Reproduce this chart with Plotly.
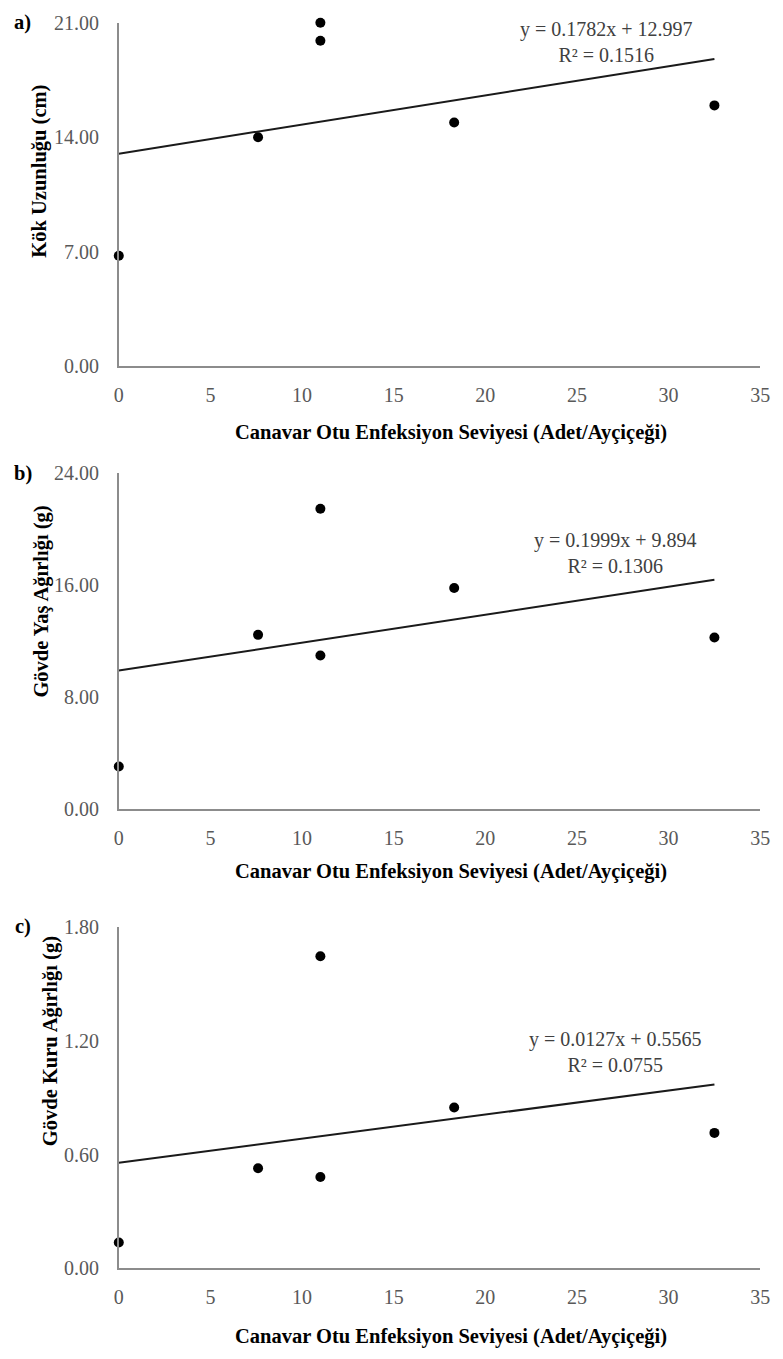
import plotly.graph_objects as go

W, H = 783, 1359

# Data
infection = [0, 7.6, 11, 11, 18.3, 32.5]
root_length = [6.75, 14.0, 21.0, 19.9, 14.9, 15.95]
fresh_weight = [3.03, 12.45, 21.47, 10.97, 15.8, 12.26]
dry_weight = [0.136, 0.528, 1.645, 0.481, 0.848, 0.714]

slopes = [0.1782, 0.1999, 0.0127]
intercepts = [12.997, 9.894, 0.5565]
r2_values = ["0.1516", "0.1306", "0.0755"]
eq_texts = ["y = 0.1782x + 12.997", "y = 0.1999x + 9.894", "y = 0.0127x + 0.5565"]

y_titles = ["Kök Uzunluğu (cm)", "Gövde Yaş Ağırlığı (g)", "Gövde Kuru Ağırlığı (g)"]
panel_labels = ["a)", "b)", "c)"]
x_title = "Canavar Otu Enfeksiyon Seviyesi (Adet/Ayçiçeği)"
x_ticks = [0, 5, 10, 15, 20, 25, 30, 35]
y_ticks = [[0, 7, 14, 21], [0, 8, 16, 24], [0, 0.6, 1.2, 1.8]]
series = [root_length, fresh_weight, dry_weight]

# Layout geometry (pixels)
x_left, x_right = 116, 770
panels_px = [(12, 361), (470, 811), (931, 1278)]
ytitle_px = [(35, 163), (37, 600), (46, 1047)]
xtitle_y = [428, 875, 1347]
eq_pos = [(26.6, 19.8), (27.1, 18.3), (27.1, 1.14)]

FONT = "Liberation Serif"
TICK_COL = "#595959"
AXIS_COL = "#8c8c8c"
FS = 20
TFS = 20.5

def px2x(p):
    return p / W

def px2y(p):
    return 1 - p / H

fig = go.Figure()
annotations = []
layout = dict(
    width=W, height=H,
    margin=dict(l=0, r=0, t=0, b=0),
    paper_bgcolor="white", plot_bgcolor="white",
    showlegend=False,
    font=dict(family=FONT, size=FS, color=TICK_COL),
)

for i in range(3):
    sfx = "" if i == 0 else str(i + 1)
    xa, ya = "x" + sfx, "y" + sfx
    top, bot = panels_px[i]
    xs = [min(infection), max(infection)]
    fig.add_trace(go.Scatter(
        x=xs, y=[slopes[i] * v + intercepts[i] for v in xs],
        mode="lines", line=dict(color="#1a1a1a", width=2),
        xaxis=xa, yaxis=ya, hoverinfo="skip"))
    fig.add_trace(go.Scatter(
        x=infection, y=series[i], mode="markers",
        marker=dict(color="black", size=10),
        cliponaxis=False, xaxis=xa, yaxis=ya))
    yt = y_ticks[i]
    layout["xaxis" + sfx] = dict(
        domain=[px2x(x_left), px2x(x_right)], anchor=ya,
        range=[0, 35], tickvals=x_ticks, ticks="", showgrid=False,
        zeroline=False, showline=True, linecolor=AXIS_COL, linewidth=1.5,
        tickfont=dict(family=FONT, size=FS, color=TICK_COL),
        ticklabelstandoff=10, fixedrange=True)
    layout["yaxis" + sfx] = dict(
        domain=[px2y(bot), px2y(top)], anchor=xa,
        range=[0, yt[-1]], tickvals=yt, tickformat=".2f", ticks="",
        showgrid=False, zeroline=False, showline=True, linecolor=AXIS_COL,
        linewidth=1.5, tickfont=dict(family=FONT, size=FS, color=TICK_COL),
        ticklabelstandoff=14, fixedrange=True)
    # equation
    ex, ey = eq_pos[i]
    annotations.append(dict(
        x=ex, y=ey, xref=xa, yref=ya, showarrow=False,
        text=eq_texts[i] + "<br>R² = " + r2_values[i],
        font=dict(family=FONT, size=FS, color="#404040"), align="center"))
    # y title
    tx, ty = ytitle_px[i]
    annotations.append(dict(
        x=px2x(tx), y=px2y(ty), xref="paper", yref="paper", showarrow=False,
        text="<b>" + y_titles[i] + "</b>", textangle=-90,
        font=dict(family=FONT, size=TFS, color="black"),
        xanchor="center", yanchor="middle"))
    # x title
    annotations.append(dict(
        x=px2x(455), y=px2y(xtitle_y[i]), xref="paper", yref="paper",
        showarrow=False, text="<b>" + x_title + "</b>",
        font=dict(family=FONT, size=TFS, color="black"),
        xanchor="center", yanchor="middle"))
    # panel label
    annotations.append(dict(
        x=px2x(18), y=px2y(top), xref="paper", yref="paper", showarrow=False,
        text="<b>" + panel_labels[i] + "</b>",
        font=dict(family=FONT, size=TFS, color="black"),
        xanchor="center", yanchor="middle"))

layout["annotations"] = annotations
fig.update_layout(**layout)
fig.write_html("out.html")
